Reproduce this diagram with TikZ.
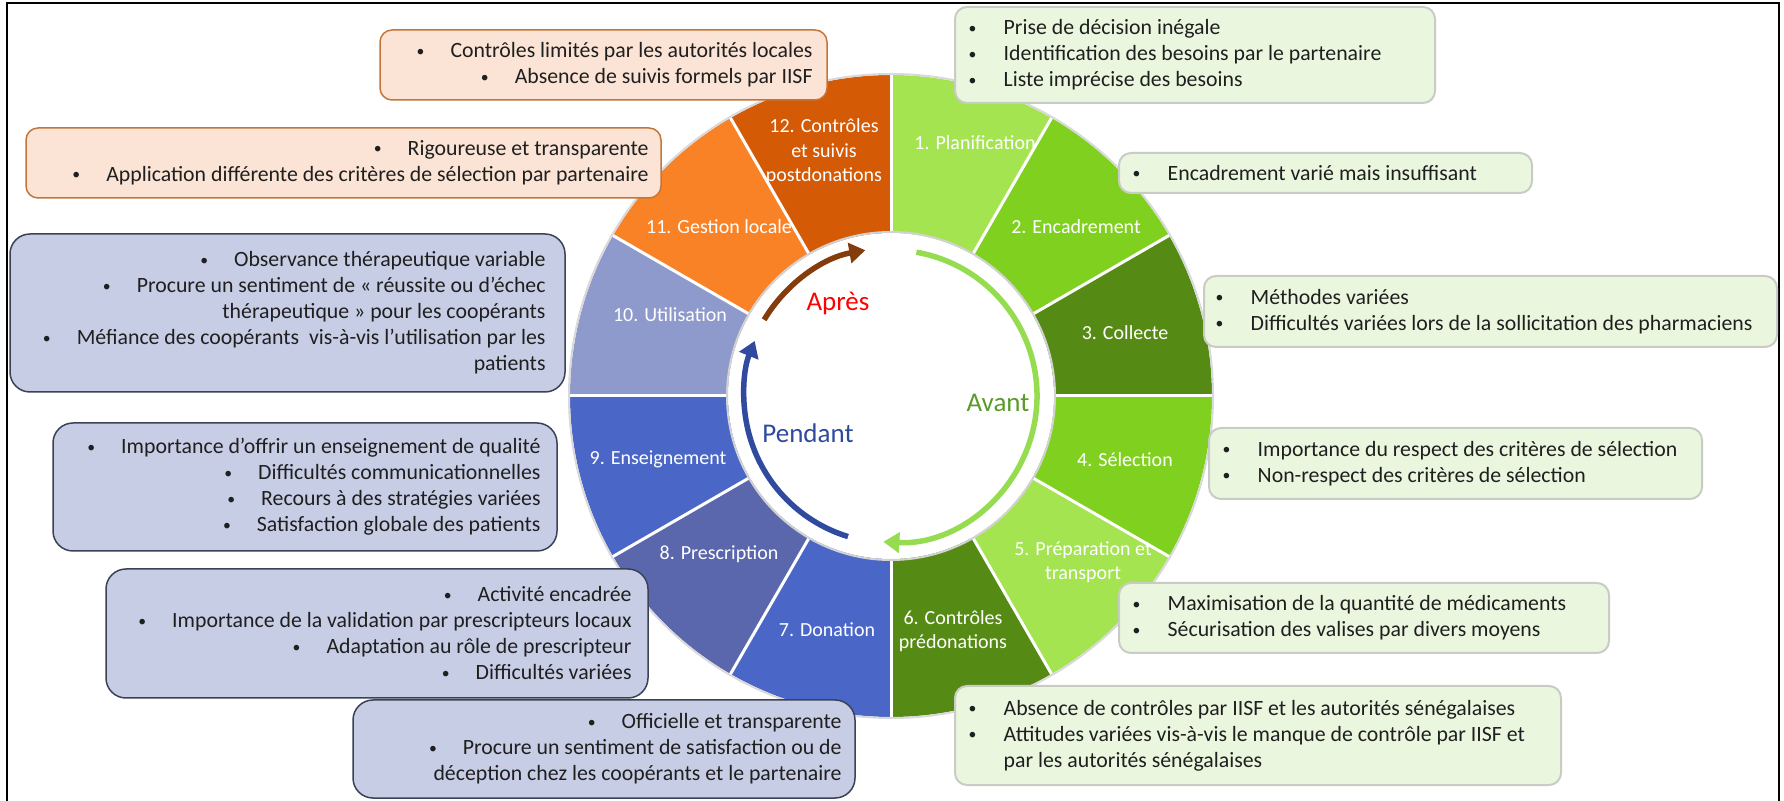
\documentclass[tikz,border=0pt]{standalone}
\usepackage{fontspec}
\usepackage{graphicx}
\setmainfont{Carlito}
\usetikzlibrary{arrows.meta}
\definecolor{sLight}{HTML}{A4E451}
\definecolor{sMid}{HTML}{80D11F}
\definecolor{sDark}{HTML}{558B14}
\definecolor{sBlue}{HTML}{4A67C8}
\definecolor{sSlate}{HTML}{5A67AC}
\definecolor{sPale}{HTML}{8E9ACB}
\definecolor{sOrange}{HTML}{FA8226}
\definecolor{sDOrange}{HTML}{D45A06}
\definecolor{oFill}{HTML}{FBE4D5}
\definecolor{oLine}{HTML}{C4763A}
\definecolor{bFill}{HTML}{C8CDE6}
\definecolor{bLine}{HTML}{3B4256}
\definecolor{gFill}{HTML}{EBF6DF}
\definecolor{gLine}{HTML}{C9CCC4}
\definecolor{arGreen}{HTML}{96DC50}
\definecolor{arBlue}{HTML}{2F4A9E}
\definecolor{arBrown}{HTML}{843C0C}
\definecolor{txtAvant}{HTML}{5A9A2A}
\definecolor{txtDark}{HTML}{1F1F1F}
\newcommand\dotb{\raisebox{1.8pt}{\scalebox{0.72}{\textbullet}}}
\newcommand\myb{\dotb\hspace{26pt}}
\newcommand\mybl{\makebox[35pt][l]{\dotb}}
\tikzset{
  seglab/.style={text=white, font=\fontsize{20}{24.5}\selectfont, align=center, inner sep=0pt},
  phase/.style={font=\fontsize{27}{30}\selectfont, inner sep=0pt},
  obox/.style={draw=oLine, fill=oFill, line width=1.5pt, rounded corners=12pt},
  bbox/.style={draw=bLine, fill=bFill, line width=1.5pt, rounded corners=20pt},
  gbox/.style={draw=gLine, fill=gFill, line width=2pt, rounded corners=12pt},
  btxt/.style={text=txtDark, font=\fontsize{21.8}{26}\selectfont, inner sep=0pt},
  rtxt/.style={btxt, align=right, anchor=east},
  ltxt/.style={btxt, align=left, anchor=west},
  cyc/.style={line width=5.5pt, -{Triangle[width=20pt,length=16pt]}},
}
\begin{document}
\begin{tikzpicture}[x=1pt,y=1pt]
\useasboundingbox (0,0) rectangle (1784,800);
\fill[white] (0,0) rectangle (1784,800);
% frame
\draw[line width=2.5pt] (7,-10) -- (7,797) -- (1779,797) -- (1779,-10);

% wheel
\begin{scope}[shift={(891,404)}]
  \foreach \i/\c in {1/sLight,2/sMid,3/sDark,4/sMid,5/sLight,6/sDark,7/sBlue,8/sSlate,9/sBlue,10/sPale,11/sOrange,12/sDOrange}{
    \pgfmathsetmacro{\aa}{90-30*(\i-1)}
    \pgfmathsetmacro{\ab}{90-30*\i}
    \fill[\c] (\aa:321) arc[start angle=\aa, end angle=\ab, radius=321] -- (\ab:162) arc[start angle=\ab, end angle=\aa, radius=162] -- cycle;
  }
  \foreach \a in {0,30,...,330}{
    \draw[white, line width=3pt] (\a:160) -- (\a:323);
  }
  \draw[gray!30, line width=2pt] (0,0) circle[radius=322];
  \fill[white] (0,0) circle[radius=163];
  \draw[gray!35, line width=2pt] (0,0) circle[radius=164];
  % cycle arrows
  \draw[cyc, arGreen] (80:146) arc[start angle=80, end angle=-93, radius=146];
  \draw[cyc, arBlue] (253:147) arc[start angle=253, end angle=158, radius=147];
  \draw[cyc, arBrown] (149:148) arc[start angle=149, end angle=100, radius=148];
\end{scope}

% phase labels
\node[phase, text=red] (apres) at (838,497) {Après};
\node[phase, text=txtAvant] (avant) at (998,397) {Avant};
\node[phase, text=arBlue] (pendant) at (808,367) {Pendant};

% segment labels
\node[seglab] (s1) at (975,657) {1. Planification};
\node[seglab] (s2) at (1076,573) {2. Encadrement};
\node[seglab] (s3) at (1125,467) {3. Collecte};
\node[seglab] (s4) at (1125,340) {4. Sélection};
\node[seglab] (s5) at (1083,238) {5. Préparation et\\transport};
\node[seglab] (s6) at (953,169) {6. Contrôles\\prédonations};
\node[seglab] (s7) at (827,170) {7. Donation};
\node[seglab] (s8) at (719,246) {8. Prescription};
\node[seglab] (s9) at (658,341) {9. Enseignement};
\node[seglab] (s10) at (670,485) {10. Utilisation};
\node[seglab] (s11) at (719,573) {11. Gestion locale};
\node[seglab] (s12) at (824,648) {12. Contrôles\\et suivis\\postdonations};

% left boxes (orange)
\node[obox, minimum width=447, minimum height=70] (bA) at (603.5,735) {};
\node[rtxt] (tA) at ([xshift=-15]bA.east) {\myb Contrôles limités par les autorités locales\\\myb Absence de suivis formels par IISF};
\node[obox, minimum width=635, minimum height=70] (bB) at (343.5,637) {};
\node[rtxt] (tB) at ([xshift=-13]bB.east) {\myb Rigoureuse et transparente\\\myb Application différente des critères de sélection par partenaire};

% left boxes (blue)
\node[bbox, minimum width=555, minimum height=158] (bC) at (287.5,487) {};
\node[rtxt] (tC) at ([xshift=-20]bC.east) {\myb Observance thérapeutique variable\\\myb Procure un sentiment de « réussite ou d’échec\\thérapeutique » pour les coopérants\\\myb Méfiance des coopérants~ vis-à-vis l’utilisation par les\\patients};
\node[bbox, minimum width=504, minimum height=128] (bD) at (305,313) {};
\node[rtxt] (tD) at ([xshift=-17]bD.east) {\myb Importance d’offrir un enseignement de qualité\\\myb Difficultés communicationnelles\\\myb Recours à des stratégies variées\\\myb Satisfaction globale des patients};
\node[bbox, minimum width=542, minimum height=129] (bE) at (377,166.5) {};
\node[rtxt] (tE) at ([xshift=-17]bE.east) {\myb Activité encadrée\\\myb Importance de la validation par prescripteurs locaux\\\myb Adaptation au rôle de prescripteur\\\myb Difficultés variées};
\node[bbox, minimum width=502, minimum height=98] (bF) at (604,51) {};
\node[rtxt] (tF) at ([xshift=-14]bF.east) {\myb Officielle et transparente\\\myb Procure un sentiment de satisfaction ou de\\déception chez les coopérants et le partenaire};

% right boxes (green)
\node[gbox, minimum width=480, minimum height=96] (bG) at (1195,745) {};
\node[ltxt] (tG) at ([xshift=14.5]bG.west) {\mybl Prise de décision inégale\\\mybl Identification des besoins par le partenaire\\\mybl Liste imprécise des besoins};
\node[gbox, minimum width=413, minimum height=40] (bH) at (1325.5,627) {};
\node[ltxt] (tH) at ([xshift=14.5]bH.west) {\mybl Encadrement varié mais insuffisant};
\node[gbox, minimum width=573, minimum height=71] (bI) at (1490.5,488.5) {};
\node[ltxt] (tI) at ([xshift=12.5]bI.west) {\mybl Méthodes variées\\\mybl Difficultés variées lors de la sollicitation des pharmaciens};
\node[gbox, minimum width=493, minimum height=71] (bJ) at (1455.5,336.5) {};
\node[ltxt] (tJ) at ([xshift=14.5]bJ.west) {\mybl Importance du respect des critères de sélection\\\mybl Non-respect des critères de sélection};
\node[gbox, minimum width=490, minimum height=70] (bK) at (1364,182) {};
\node[ltxt] (tK) at ([xshift=14.5]bK.west) {\mybl Maximisation de la quantité de médicaments\\\mybl Sécurisation des valises par divers moyens};
\node[gbox, minimum width=606, minimum height=99] (bL) at (1258,64.5) {};
\node[ltxt] (tL) at ([xshift=14.5]bL.west) {\mybl Absence de contrôles par IISF et les autorités sénégalaises\\\mybl Attitudes variées vis-à-vis le manque de contrôle par IISF et\\\hspace{35pt}par les autorités sénégalaises};
\end{tikzpicture}
\end{document}
